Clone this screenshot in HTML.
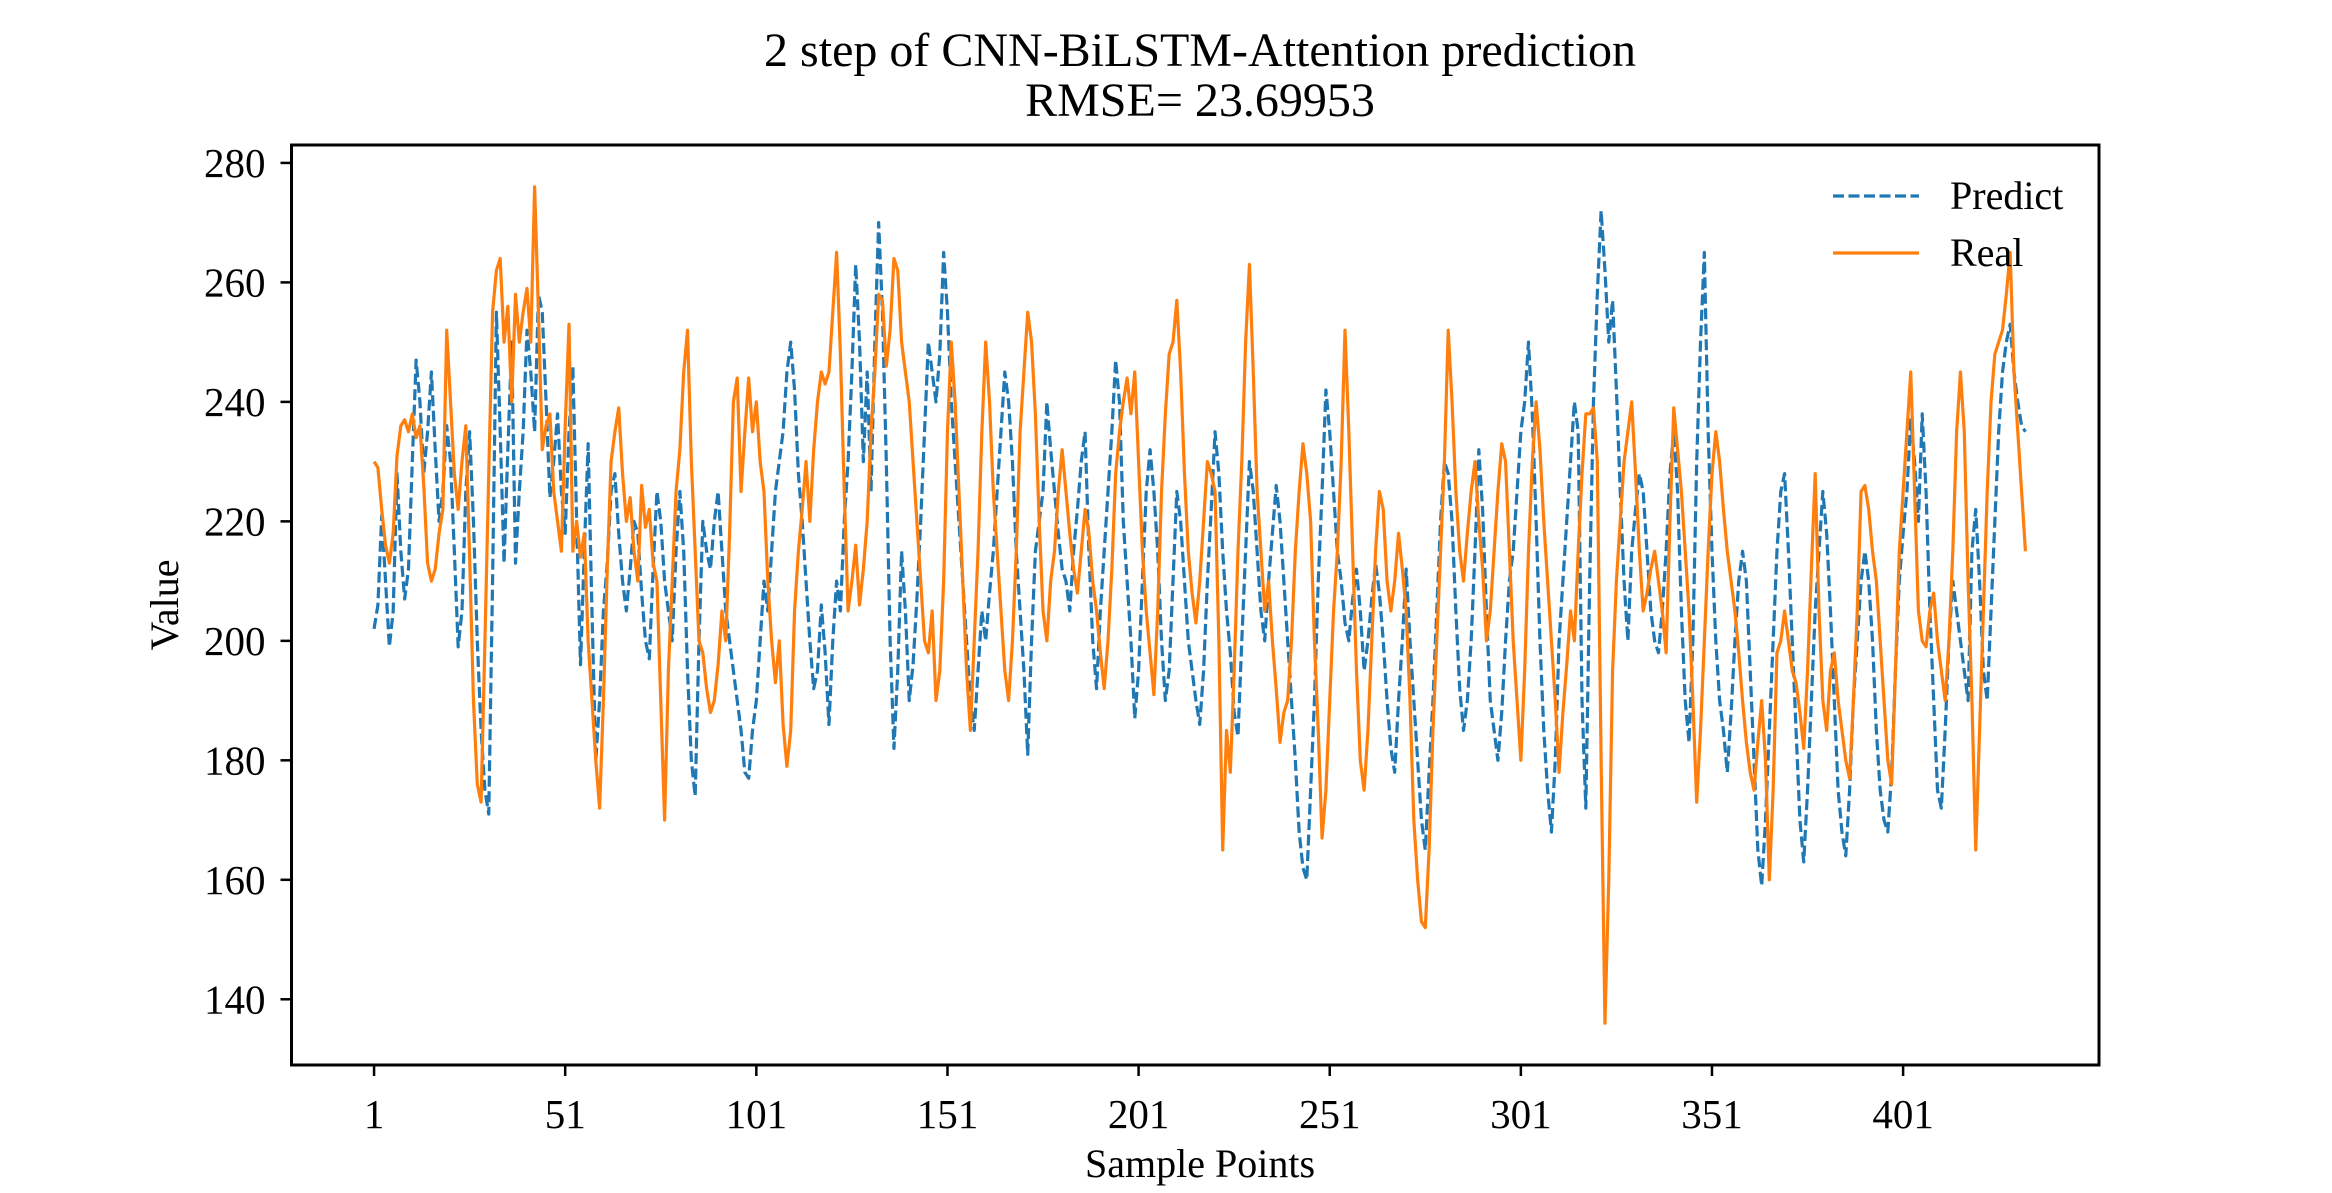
<!DOCTYPE html>
<html><head><meta charset="utf-8"><style>
html,body{margin:0;padding:0;background:#fff;}
svg{display:block;font-family:"Liberation Serif",serif;}
</style></head><body>
<svg id="chart" width="2332" height="1193" viewBox="0 0 2332 1193" xmlns="http://www.w3.org/2000/svg">
<rect width="2332" height="1193" fill="#fff"/>
<text x="1200" y="66" font-size="48" text-anchor="middle">2 step of CNN-BiLSTM-Attention prediction</text>
<text x="1200" y="116" font-size="48" text-anchor="middle">RMSE= 23.69953</text>
<text x="1200" y="1177" font-size="40" text-anchor="middle">Sample Points</text>
<text transform="translate(178,605) rotate(-90)" font-size="40" text-anchor="middle">Value</text>
<g id="plot"></g>
<rect x="291.5" y="145" width="1807.5" height="920" fill="none" stroke="#000" stroke-width="3"/>
<g>
<line x1="1833" y1="196" x2="1919" y2="196" stroke="#1f77b4" stroke-width="3.2" stroke-dasharray="11,4.5"/>
<text x="1950" y="209" font-size="40">Predict</text>
<line x1="1833" y1="253" x2="1919" y2="253" stroke="#ff7f0e" stroke-width="3.2"/>
<text x="1950" y="266" font-size="40">Real</text>
</g>
</svg>
<script>
const xTicks=[1,51,101,151,201,251,301,351,401];
const yTicks=[140,160,180,200,220,240,260,280];
const real=[230,229,222,216,213,218,231,236,237,235,
238,234,236,226,213,210,212,218,222,252,
240,228,222,230,236,214,190,176,173,200,
228,255,262,264,250,256,240,258,250,255,
259,250,276,255,232,236,238,225,220,215,
236,253,215,220,214,218,200,190,180,172,
190,212,230,235,239,228,220,224,215,210,
226,219,222,213,210,190,170,195,210,225,
232,245,252,230,215,200,198,192,188,190,
196,205,200,218,240,244,225,235,244,235,
240,230,225,210,200,193,200,186,179,185,
205,215,222,230,220,232,240,245,243,245,
255,265,248,225,205,210,216,206,212,220,
235,245,258,257,246,252,264,262,250,245,
240,230,220,210,200,198,205,190,195,210,
235,250,240,225,210,195,185,200,215,235,
250,240,225,215,205,195,190,200,215,235,
245,255,250,238,220,205,200,210,215,225,
232,225,218,212,208,215,222,218,210,205,
198,192,200,212,228,235,240,244,238,245,
230,215,205,198,191,205,225,238,248,250,
257,245,228,215,208,203,210,220,230,228,
225,200,165,185,178,195,215,230,250,263,
245,225,215,205,210,200,192,183,188,190,
200,215,225,233,228,220,200,185,167,175,
190,205,215,230,252,235,215,195,180,175,
185,200,215,225,222,210,205,210,218,212,
205,190,170,160,153,152,165,185,200,215,
230,252,240,225,215,210,218,225,230,220,
212,200,205,215,225,233,230,215,200,190,
180,195,215,230,240,232,220,210,200,190,
178,188,196,205,200,215,228,238,238,239,
230,180,136,160,195,210,220,230,235,240,
228,215,205,208,212,215,210,205,198,220,
239,232,225,215,205,190,173,185,200,215,
228,235,230,222,215,210,205,198,190,183,
178,175,183,190,180,160,175,198,200,205,
200,195,193,188,182,195,212,228,205,190,
185,195,198,190,185,180,177,190,205,225,
226,222,215,210,200,190,180,176,195,215,
225,235,245,225,205,200,199,205,208,200,
195,190,200,215,235,245,235,210,190,165,
185,205,225,240,248,250,252,258,265,245,
235,225,215];
const predict=[202,206,221,210,199,205,228,215,207,212,
230,247,240,228,235,245,232,220,225,236,
230,215,199,205,225,235,220,200,185,175,
171,210,255,235,213,232,250,213,225,235,
252,245,235,258,255,240,224,230,238,225,
218,235,246,220,196,215,233,205,180,190,
205,213,225,228,218,210,205,212,220,218,
208,200,197,212,225,220,210,205,200,215,
225,215,195,180,174,200,220,215,212,220,
225,215,205,200,195,190,185,178,177,185,
190,200,210,205,215,225,230,235,245,250,
242,228,220,210,200,192,195,206,198,186,
200,210,205,220,230,245,263,250,230,245,
225,250,270,255,230,200,182,195,215,205,
190,196,207,220,235,250,245,240,248,265,
255,240,230,220,210,200,190,185,195,205,
200,208,215,225,235,245,240,230,215,205,
195,181,200,215,220,225,240,232,225,218,
212,210,205,215,222,230,235,215,200,192,
205,215,225,235,247,240,220,210,200,187,
195,210,225,232,225,215,200,190,195,210,
225,220,210,200,195,190,186,195,210,222,
235,228,215,205,198,188,184,200,215,230,
225,215,205,200,210,218,226,220,210,200,
190,180,168,162,160,175,190,210,225,242,
235,225,215,210,203,200,207,212,205,195,
200,207,213,208,200,190,182,178,190,200,
212,200,190,180,170,165,178,190,205,220,
230,228,220,205,192,185,190,200,215,232,
222,205,190,185,180,188,200,210,215,225,
235,240,250,238,220,200,185,175,168,180,
200,210,220,230,240,235,190,172,210,240,
258,272,262,250,257,242,225,210,200,215,
222,228,225,215,205,200,198,205,215,228,
235,225,205,190,183,200,230,250,265,235,
215,200,190,185,178,188,200,210,215,210,
195,180,165,159,170,185,200,215,225,228,
215,200,185,170,163,175,190,205,215,225,
218,205,190,175,168,164,175,190,200,210,
215,210,200,185,175,170,168,178,195,210,
218,225,237,230,220,238,225,205,190,175,
172,185,200,210,205,200,195,190,215,222,
210,195,190,205,220,235,245,250,253,245,
240,236,235];

const NS="http://www.w3.org/2000/svg";
const L=291.5,R=2108,T=145,B=1065;
const N=real.length;
const xmin=1-(N-1)*0.05, xmax=N+(N-1)*0.05;
const allV=real.concat(predict);
const vmin=Math.min(...allV), vmax=Math.max(...allV);
const ymin=vmin-(vmax-vmin)*0.05, ymax=vmax+(vmax-vmin)*0.05;
function xs(i){return L+(i-xmin)/(xmax-xmin)*(R-L);}
function ys(v){return B-(v-ymin)/(ymax-ymin)*(B-T);}
const svg=document.getElementById('chart');
const plot=document.getElementById('plot');
function mk(tag,attrs){const e=document.createElementNS(NS,tag);for(const k in attrs)e.setAttribute(k,attrs[k]);return e;}

xTicks.forEach(t=>{
  const x=xs(t);
  const ln=mk('line',{x1:x,y1:B,x2:x,y2:B+11,stroke:'#000','stroke-width':2.5});
  
  
  svg.appendChild(ln);
  const tx=mk('text',{x:x,y:1128,'font-size':41,'text-anchor':'middle'});
  
  
  tx.textContent=t;svg.appendChild(tx);
});
yTicks.forEach(t=>{
  const y=ys(t);
  const ln=mk('line',{x1:L-11,y1:y,x2:L,y2:y,stroke:'#000','stroke-width':2.5});
  
  
  svg.appendChild(ln);
  const tx=mk('text',{x:L-26,y:y+14,'font-size':41,'text-anchor':'end'});
  
  
  tx.textContent=t;svg.appendChild(tx);
});
function pathFor(arr){return arr.map((v,i)=>(i?'L':'M')+xs(i+1).toFixed(2)+' '+ys(v).toFixed(2)).join(' ');}
const pPred=mk('path',{d:pathFor(predict),fill:'none',stroke:'#1f77b4','stroke-width':3.2,'stroke-dasharray':'11,4.5','stroke-linejoin':'round'});


plot.appendChild(pPred);
const pReal=mk('path',{d:pathFor(real),fill:'none',stroke:'#ff7f0e','stroke-width':3.2,'stroke-linejoin':'round'});


plot.appendChild(pReal);
</script>
</body></html>
